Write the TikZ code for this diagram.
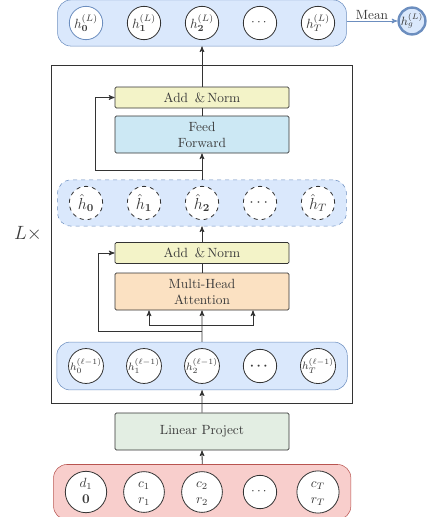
\documentclass[tikz,border=0pt]{standalone}
\usepackage{amsmath,amssymb,bm}
\usetikzlibrary{arrows,calc,positioning,fit,backgrounds}

\definecolor{bandfill}{HTML}{DAE8FC}
\definecolor{bandline}{HTML}{6C8EBF}
\definecolor{redfill}{HTML}{F8CECC}
\definecolor{redline}{HTML}{B85450}
\definecolor{normfill}{HTML}{F3F3C8}
\definecolor{fffill}{HTML}{CCE8F4}
\definecolor{attfill}{HTML}{FBE1C2}
\definecolor{linfill}{HTML}{E3EEE3}
\definecolor{linegray}{HTML}{333333}
\definecolor{textgray}{HTML}{3A3A3A}

\begin{document}
\begin{tikzpicture}[x=0.75pt, y=-0.75pt, >=stealth', node distance=43.5pt, semithick, color=linegray,
    tok/.style={circle, draw=linegray, fill=white, minimum size=25pt, inner sep=0pt, text=textgray},
    band/.style={rounded corners=10pt, draw=bandline, fill=bandfill, inner xsep=8.5pt, inner ysep=4.5pt},
    block/.style={rectangle, draw=linegray, rounded corners=1pt, minimum width=130.5pt, text=textgray, align=center, inner sep=1pt}]
    \useasboundingbox (0,0) rectangle (427,517);

    % input tokens
    \node[tok]                 (c2) at (202,492)  {$\begin{array}{c}c_2\\ r_2\end{array}$};
    \node[tok, left of=c2]     (c1)               {$\begin{array}{c}c_1\\ r_1\end{array}$};
    \node[tok, left of=c1]     (d1)               {$\begin{array}{c}d_1\\ \mathbf{0}\end{array}$};
    \node[tok, right of=c2]    (cdots)            {$\cdots$};
    \node[tok, right of=cdots] (cT)               {$\begin{array}{c}c_T\\ r_T\end{array}$};

    % layer inputs
    \node[tok]                 (l2) at (202,366)  {\footnotesize $h_2^{(\ell-1)}$};
    \node[tok, left of=l2]     (l1)               {\footnotesize $h_1^{(\ell-1)}$};
    \node[tok, left of=l1]     (l0)               {\footnotesize $h_0^{(\ell-1)}$};
    \node[tok, right of=l2]    (ldots)            {$\bm{\cdots}$};
    \node[tok, right of=ldots] (lT)               {\footnotesize $h_T^{(\ell-1)}$};

    % intermediate
    \node[tok, dashed]                 (m2) at (202,203) {\large $\hat{h}_{\mathbf{2}}$};
    \node[tok, dashed, left of=m2]     (m1)              {\large $\hat{h}_{\mathbf{1}}$};
    \node[tok, dashed, left of=m1]     (m0)              {\large $\hat{h}_{\mathbf{0}}$};
    \node[tok, dashed, right of=m2]    (mdots)           {\large $\cdots$};
    \node[tok, dashed, right of=mdots] (mT)              {\large $\hat{h}_T$};

    % outputs
    \node[tok]                 (o2) at (202,23)   {$h_{\mathbf{2}}^{(L)}$};
    \node[tok, left of=o2]     (o1)               {$h_{\mathbf{1}}^{(L)}$};
    \node[tok, left of=o1, draw=bandline] (o0)    {$h_{\mathbf{0}}^{(L)}$};
    \node[tok, right of=o2]    (odots)            {$\cdots$};
    \node[tok, right of=odots] (oT)               {$h_T^{(L)}$};
    \node[tok, draw=bandline, fill=bandfill, line width=1.8pt, minimum size=20pt] (hg) at (412,21) {\small $h_g^{(L)}$};

    \begin{scope}[on background layer]
        \node[band, draw=redline, fill=redfill, fit=(d1)(cT)] (inband)  {};
        \node[band, fit=(l0)(lT)]                             (lband)   {};
        \node[band, dashed, fit=(m0)(mT)]                     (hband)   {};
        \node[band, fit=(o0)(oT)]                             (outband) {};
    \end{scope}

    % blocks
    \node[block, fill=linfill,  minimum height=27.75pt] (lin)  at (202,431.5) {Linear Project};
    \node[block, fill=attfill,  minimum height=27.75pt] (mha)  at (202,291.5) {Multi-Head\\Attention};
    \node[block, fill=normfill, minimum height=15.75pt] (an1)  at (202,253)   {Add \,\&\,Norm};
    \node[block, fill=fffill,   minimum height=27.75pt] (ff)   at (202,134.5) {Feed\\Forward};
    \node[block, fill=normfill, minimum height=15.75pt] (an2)  at (202,97.5)  {Add \,\&\,Norm};

    % encoder layer frame
    \draw (51,65) rectangle (352,403);
    \node[text=textgray, font=\Large] (lx) at (28,234) {$L\times$};

    \path[->]   (inband.north) edge (lin.south)
                (lin.north)    edge (lband.north |- lband.south)
                (an1.north)    edge (hband.south)
                (hband.north)  edge (ff.south)
                (an2.north)    edge (outband.south);
    \draw (mha.north) -- (an1.south);
    \draw (ff.north) -- (an2.south);

    % query, key, value
    \coordinate (qkv) at ($(mha.south)+(0,15)$);
    \draw[->] (lband.north) -- (mha.south);
    \draw[->] (qkv) -- ++(-53,0) -- ($(mha.south)+(-53,0)$);
    \draw[->] (qkv) -- ++(51,0) -- ($(mha.south)+(51,0)$);

    % residuals
    \coordinate (res1) at ($(lband.north)+(0,-10)$);
    \draw[->] (res1) -- ++(-104,0) |- (an1.west);
    \coordinate (res2) at ($(hband.north)+(0,-9)$);
    \draw[->] (res2) -- ++(-107,0) |- (an2.west);

    \draw[->, draw=bandline] (outband.east |- hg) -- node[above, text=textgray, inner sep=1pt] {Mean} (hg.west);
\end{tikzpicture}
\end{document}
